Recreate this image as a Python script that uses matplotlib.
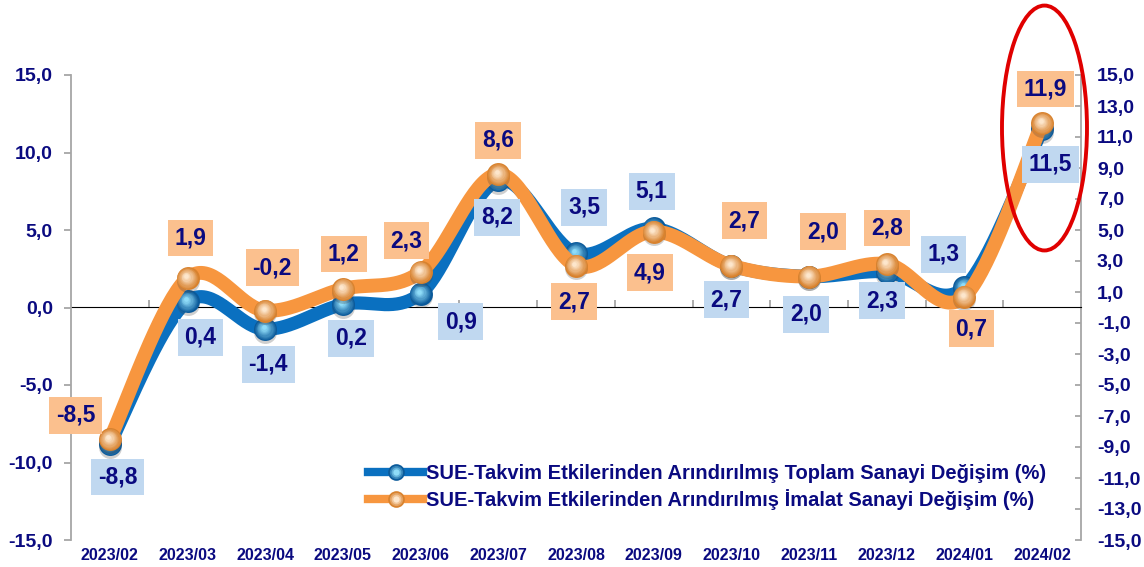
import numpy as np
import matplotlib
matplotlib.use('Agg')
import matplotlib.pyplot as plt
from matplotlib.patches import Ellipse
from matplotlib.lines import Line2D
from matplotlib.legend_handler import HandlerTuple
from matplotlib.colors import to_rgb

# ---------------- data ----------------
categories = ['2023/02', '2023/03', '2023/04', '2023/05', '2023/06', '2023/07', '2023/08',
              '2023/09', '2023/10', '2023/11', '2023/12', '2024/01', '2024/02']
toplam = [-8.8, 0.4, -1.4, 0.2, 0.9, 8.2, 3.5, 5.1, 2.7, 2.0, 2.3, 1.3, 11.5]
imalat = [-8.5, 1.9, -0.2, 1.2, 2.3, 8.6, 2.7, 4.9, 2.7, 2.0, 2.8, 0.7, 11.9]
left_ticks = [-15, -10, -5, 0, 5, 10, 15]
right_ticks = list(range(-15, 16, 2))
legend_labels = ['SUE-Takvim Etkilerinden Arındırılmış Toplam Sanayi Değişim (%)',
                 'SUE-Takvim Etkilerinden Arındırılmış İmalat Sanayi Değişim (%)']

# label offsets (pixels) – layout only
toplam_offsets = [(8, -33), (13, -36), (3, -35), (8, -34), (40, -28), (-1, -37), (8, 46),
                  (-2, 37), (-5, -34), (-3, -38), (-5, -29), (-21, 33), (8, -35)]
imalat_offsets = [(-34, 24), (3, 40), (7, 43), (1, 35), (-14, 31), (0, 34), (-2, -36),
                  (-4, -41), (13, 45), (14, 45), (0, 36), (7, -32), (3, 34)]

# ---------------- style ----------------
NAVY = '#0a0a80'
GRAY = '#a6a6a6'
BLUE = '#0a70c0'
ORANGE = '#f7963f'
BLUE_BOX = '#c0d8f0'
ORANGE_BOX = '#fbc08e'
plt.rcParams['font.family'] = ['Liberation Sans', 'DejaVu Sans']
plt.rcParams['font.weight'] = 'bold'


def fmt(v):
    return f"{v:.1f}".replace('.', ',')


def smooth(x, y, n=40):
    P = np.column_stack([x, y]).astype(float)
    P = np.vstack([P[0], P, P[-1]])
    out = []
    t = np.linspace(0, 1, n)[:, None]
    for i in range(1, len(P) - 2):
        p0, p1, p2, p3 = P[i - 1], P[i], P[i + 1], P[i + 2]
        c1 = p1 + (p2 - p0) / 6
        c2 = p2 - (p3 - p1) / 6
        seg = (1 - t) ** 3 * p1 + 3 * (1 - t) ** 2 * t * c1 + 3 * (1 - t) * t ** 2 * c2 + t ** 3 * p2
        out.append(seg if i == 1 else seg[1:])
    return np.vstack(out)


def spheres(ax, x, y, edge, center, z, d=16.5):
    e = np.array(to_rgb(edge))
    c = np.array(to_rgb(center))
    ax.scatter(x, np.array(y) - 0.18, s=(d * 1.0) ** 2, color='#404040', alpha=0.25,
               linewidths=0, zorder=z)
    steps = 9
    for k in range(steps):
        f = k / (steps - 1)
        size = d * (1 - 0.8 * f)
        col = e * (1 - f) + c * f
        ax.scatter(np.array(x) - 0.02 * f, np.array(y) + 0.12 * f, s=size ** 2, color=col,
                   linewidths=0, zorder=z + 0.01 * (k + 1))


fig = plt.figure(figsize=(11.44, 5.67), dpi=100)
ax = fig.add_axes([71 / 1144, 27 / 567, 1010 / 1144, 465 / 567])
x = np.arange(len(categories))

sb = smooth(x, toplam)
so = smooth(x, imalat)
ax.plot(sb[:, 0], sb[:, 1], color=BLUE, lw=9.5, solid_capstyle='round', zorder=2)
spheres(ax, x, toplam, '#0b5a9a', '#8fdcf8', 3)
ax.plot(so[:, 0], so[:, 1], color=ORANGE, lw=10, solid_capstyle='round', zorder=4)
spheres(ax, x, imalat, '#d8822e', '#fde6cc', 5)

for xi, v, off in zip(x, toplam, toplam_offsets):
    ax.annotate(fmt(v), (xi, v), xytext=off, textcoords='offset pixels', ha='center',
                va='center', fontsize=16.5, color=NAVY, fontweight='bold', zorder=8,
                bbox=dict(boxstyle='square,pad=0.3', fc=BLUE_BOX, ec='none'))
for xi, v, off in zip(x, imalat, imalat_offsets):
    ax.annotate(fmt(v), (xi, v), xytext=off, textcoords='offset pixels', ha='center',
                va='center', fontsize=16.5, color=NAVY, fontweight='bold', zorder=8,
                bbox=dict(boxstyle='square,pad=0.3', fc=ORANGE_BOX, ec='none'))

ax.set_xlim(-0.5, len(categories) - 0.5)
ax.set_ylim(-15, 15)
ax.set_yticks(left_ticks)
ax.set_yticklabels([fmt(v) for v in left_ticks])
ax.set_xticks(x)
ax.set_xticklabels(categories)
ax.tick_params(axis='x', length=0, pad=6, labelsize=11.5, labelcolor=NAVY)
ax.tick_params(axis='y', direction='out', length=5, width=1.3, color=GRAY, pad=8,
               labelsize=14, labelcolor=NAVY)
for s in ['top', 'right', 'bottom']:
    ax.spines[s].set_visible(False)
ax.spines['left'].set_color(GRAY)
ax.spines['left'].set_linewidth(1.3)

# zero line with category boundary ticks
sec = ax.secondary_xaxis(0.5)
sec.set_xticks(np.arange(len(categories) - 1) + 0.5)
sec.set_xticklabels([])
sec.tick_params(direction='out', length=5, width=1.3, color=GRAY)
sec.spines['bottom'].set_color(GRAY)
sec.spines['bottom'].set_linewidth(1.3)
sec.set_zorder(1)

ax2 = ax.twinx()
ax2.set_ylim(-15, 15)
ax2.set_yticks(right_ticks)
ax2.set_yticklabels([fmt(v) for v in right_ticks])
ax2.tick_params(axis='y', direction='in', length=4, width=1.3, color=GRAY, pad=11.5,
                labelsize=14, labelcolor=NAVY)
for s in ['top', 'left', 'bottom']:
    ax2.spines[s].set_visible(False)
ax2.spines['right'].set_color(GRAY)
ax2.spines['right'].set_linewidth(1.3)
ax2.set_zorder(0)
ax.set_zorder(1)
ax.patch.set_visible(False)

# red highlight ellipse
ell = Ellipse((12.03, 11.58), width=1.094, height=15.8, fill=False, ec='#e00000', lw=2.8,
              clip_on=False, zorder=9)
ax.add_patch(ell)


def leg_handle(line_col, edge, center):
    e = np.array(to_rgb(edge)); c = np.array(to_rgb(center))
    parts = [Line2D([], [], color=line_col, lw=6)]
    for k, ms in enumerate([12, 9.5, 7, 4.5]):
        f = k / 3
        col = e * (1 - f) + c * f
        parts.append(Line2D([], [], ls='', marker='o', ms=ms, mfc=col, mec=col, mew=0))
    return tuple(parts)


handles = [leg_handle(BLUE, '#0b5a9a', '#8fdcf8'), leg_handle(ORANGE, '#d8822e', '#fde6cc')]
leg = fig.legend(handles, legend_labels, loc='center left',
                 bbox_to_anchor=(368 / 1144, 1 - 487 / 567), frameon=False,
                 handler_map={tuple: HandlerTuple(ndivide=1, pad=0)},
                 handlelength=2.75, handletextpad=0.15, labelspacing=0.3,
                 borderpad=0, borderaxespad=0,
                 prop={'size': 14.5, 'weight': 'bold'})
for t in leg.get_texts():
    t.set_color(NAVY)

fig.savefig('out.png', dpi=100)
